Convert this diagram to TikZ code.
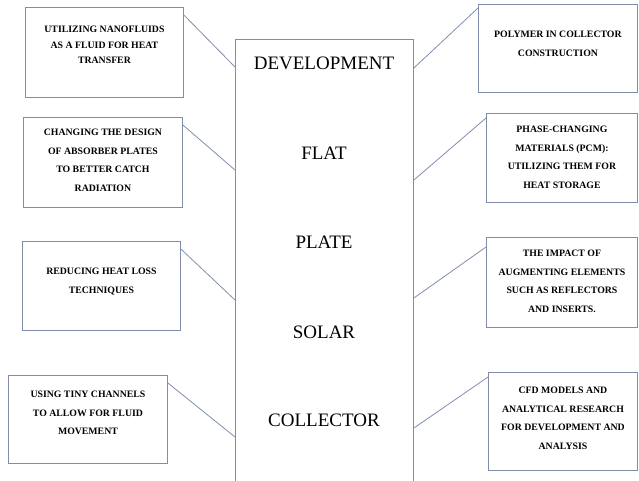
\documentclass[tikz,border=0pt]{standalone}
\usepackage{fontspec}
\setmainfont{Liberation Serif}
\usetikzlibrary{calc}
\definecolor{edgec}{RGB}{128,142,172}
\tikzset{
  x=1pt,y=-1pt,
  sidebox/.style={draw=edgec,line width=0.9pt,inner sep=0pt,anchor=north west},
  boxtext/.style={align=center,font=\bfseries\fontsize{9.8}{18.6}\selectfont,inner sep=0pt,anchor=north},
  maintext/.style={font=\fontsize{19}{22}\selectfont,inner sep=0pt},
  link/.style={draw=edgec,line width=0.8pt}
}
\begin{document}
\begin{tikzpicture}
\useasboundingbox (0,0) rectangle (639,480);
% central box
\node[sidebox,minimum width=178pt,minimum height=445pt] (main) at (235,39) {};
\node[maintext] (t1) at (324,63) {DEVELOPMENT};
\node[maintext] (t2) at (324,153) {FLAT};
\node[maintext] (t3) at (324,242) {PLATE};
\node[maintext] (t4) at (324,332) {SOLAR};
\node[maintext] (t5) at (324,420) {COLLECTOR};
% left boxes
\node[sidebox,minimum width=158pt,minimum height=90pt] (b1) at (25,7) {};
\node[boxtext,font=\bfseries\fontsize{9.8}{15.5}\selectfont] (l1) at ($(b1.north)+(0,19)$) {UTILIZING NANOFLUIDS\\AS A FLUID FOR HEAT\\TRANSFER};
\node[sidebox,minimum width=159pt,minimum height=90pt] (b2) at (23,117) {};
\node[boxtext] (l2) at ($(b2.north)+(0,12)$) {CHANGING THE DESIGN\\OF ABSORBER PLATES\\TO BETTER CATCH\\RADIATION};
\node[sidebox,minimum width=158pt,minimum height=89pt] (b3) at (22,241) {};
\node[boxtext] (l3) at ($(b3.north)+(0,27)$) {REDUCING HEAT LOSS\\TECHNIQUES};
\node[sidebox,minimum width=159pt,minimum height=88pt] (b4) at (8,375) {};
\node[boxtext] (l4) at ($(b4.north)+(0,16)$) {USING TINY CHANNELS\\TO ALLOW FOR FLUID\\MOVEMENT};
% right boxes
\node[sidebox,minimum width=159pt,minimum height=88pt] (b5) at (478,4) {};
\node[boxtext] (r1) at ($(b5.north)+(0,27)$) {POLYMER IN COLLECTOR\\CONSTRUCTION};
\node[sidebox,minimum width=151pt,minimum height=89pt] (b6) at (486,113) {};
\node[boxtext] (r2) at ($(b6.north)+(0,13)$) {PHASE-CHANGING\\MATERIALS (PCM):\\UTILIZING THEM FOR\\HEAT STORAGE};
\node[sidebox,minimum width=151pt,minimum height=90pt] (b7) at (486,237) {};
\node[boxtext] (r3) at ($(b7.north)+(0,13)$) {THE IMPACT OF\\AUGMENTING ELEMENTS\\SUCH AS REFLECTORS\\AND INSERTS.};
\node[sidebox,minimum width=149pt,minimum height=98pt] (b8) at (488,372) {};
\node[boxtext] (r4) at ($(b8.north)+(0,15)$) {CFD MODELS AND\\ANALYTICAL RESEARCH\\FOR DEVELOPMENT AND\\ANALYSIS};
% connectors
\draw[link] ($(b1.north east)+(0,8)$) -- ($(main.north west)+(0,28)$);
\draw[link] ($(b2.north east)+(0,8)$) -- ($(main.north west)+(0,131)$);
\draw[link] ($(b3.north east)+(0,8)$) -- ($(main.north west)+(0,261)$);
\draw[link] ($(b4.north east)+(0,8)$) -- ($(main.north west)+(0,398)$);
\draw[link] ($(b5.north west)+(0,4)$) -- ($(main.north east)+(0,29)$);
\draw[link] ($(b6.north west)+(0,5)$) -- ($(main.north east)+(0,141)$);
\draw[link] ($(b7.north west)+(0,10)$) -- ($(main.north east)+(0,259)$);
\draw[link] ($(b8.north west)+(0,5)$) -- ($(main.north east)+(0,389)$);
\end{tikzpicture}
\end{document}
